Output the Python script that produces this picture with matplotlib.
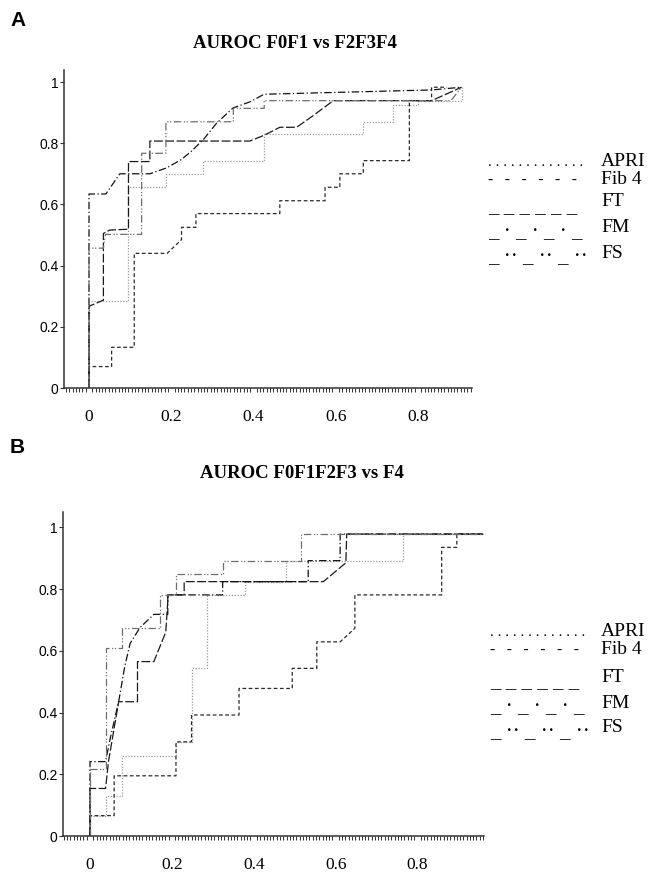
import numpy as np
import matplotlib
matplotlib.use("Agg")
import matplotlib.pyplot as plt
from matplotlib.ticker import MultipleLocator, FixedLocator

W, H = 651, 875

# legend / series names
names = ["APRI", "Fib 4", "FT", "FM", "FS"]
legend_marks = [". . . . . . . . . . . . .", "-   -   -   -   -   -", "_ _ _ _ _ _",
                "_ \u00b7 _ \u00b7 _ \u00b7 _", "_ \u00b7\u00b7 _ \u00b7\u00b7 _ \u00b7\u00b7"]

# panel A : F0F1 vs F2F3F4
a_apri_x = [0, 0, 0.096, 0.096, 0.187, 0.187, 0.278, 0.278, 0.426, 0.426, 0.667, 0.667, 0.74, 0.74, 0.80, 0.80, 0.906, 0.906]
a_apri_y = [0, 0.285, 0.285, 0.656, 0.656, 0.70, 0.70, 0.743, 0.743, 0.829, 0.829, 0.87, 0.87, 0.925, 0.925, 0.939, 0.939, 0.983]
a_fib4_x = [0, 0, 0.055, 0.055, 0.11, 0.11, 0.19, 0.225, 0.225, 0.26, 0.26, 0.464, 0.464, 0.574, 0.574, 0.61, 0.61, 0.667, 0.667, 0.779, 0.779, 0.833, 0.833, 0.87]
a_fib4_y = [0, 0.07, 0.07, 0.133, 0.133, 0.44, 0.44, 0.485, 0.525, 0.525, 0.57, 0.57, 0.612, 0.612, 0.656, 0.656, 0.70, 0.70, 0.743, 0.743, 0.939, 0.939, 0.983, 0.983]
a_ft_x = [0, 0, 0.035, 0.035, 0.05, 0.096, 0.096, 0.148, 0.148, 0.391, 0.426, 0.464, 0.505, 0.545, 0.594, 0.833, 0.906]
a_ft_y = [0, 0.267, 0.287, 0.505, 0.516, 0.519, 0.74, 0.74, 0.807, 0.807, 0.826, 0.852, 0.852, 0.89, 0.939, 0.939, 0.983]
a_fm_x = [0, 0, 0.041, 0.075, 0.148, 0.19, 0.225, 0.25, 0.28, 0.31, 0.35, 0.391, 0.426, 0.833, 0.906]
a_fm_y = [0, 0.634, 0.634, 0.70, 0.70, 0.72, 0.747, 0.775, 0.815, 0.865, 0.915, 0.935, 0.96, 0.974, 0.983]
a_fs_x = [0, 0, 0.035, 0.04, 0.128, 0.128, 0.187, 0.187, 0.351, 0.351, 0.426, 0.426, 0.88, 0.906]
a_fs_y = [0, 0.457, 0.457, 0.502, 0.502, 0.767, 0.767, 0.87, 0.87, 0.914, 0.914, 0.939, 0.939, 0.983]

# panel B : F0F1F2F3 vs F4
b_apri_x = [0, 0, 0.038, 0.038, 0.077, 0.077, 0.21, 0.21, 0.248, 0.248, 0.287, 0.287, 0.378, 0.378, 0.478, 0.478, 0.764, 0.764, 0.96]
b_apri_y = [0, 0.066, 0.066, 0.13, 0.13, 0.26, 0.26, 0.305, 0.305, 0.543, 0.543, 0.781, 0.781, 0.824, 0.824, 0.892, 0.892, 0.978, 0.978]
b_fib4_x = [0, 0, 0.059, 0.059, 0.21, 0.21, 0.248, 0.248, 0.364, 0.364, 0.494, 0.494, 0.554, 0.554, 0.611, 0.647, 0.647, 0.859, 0.859, 0.896, 0.896, 0.96]
b_fib4_y = [0, 0.066, 0.066, 0.195, 0.195, 0.305, 0.305, 0.392, 0.392, 0.478, 0.478, 0.543, 0.543, 0.629, 0.629, 0.673, 0.781, 0.781, 0.935, 0.935, 0.978, 0.978]
b_ft_x = [0, 0, 0.038, 0.045, 0.07, 0.116, 0.116, 0.156, 0.185, 0.191, 0.23, 0.23, 0.57, 0.625, 0.627, 0.96]
b_ft_y = [0, 0.154, 0.154, 0.24, 0.435, 0.435, 0.565, 0.565, 0.66, 0.781, 0.781, 0.824, 0.824, 0.885, 0.978, 0.978]
b_fm_x = [0, 0, 0.038, 0.05, 0.07, 0.085, 0.098, 0.122, 0.156, 0.19, 0.19, 0.324, 0.324, 0.533, 0.533, 0.611, 0.611, 0.96]
b_fm_y = [0, 0.241, 0.241, 0.32, 0.435, 0.55, 0.624, 0.675, 0.718, 0.718, 0.781, 0.781, 0.824, 0.824, 0.892, 0.892, 0.978, 0.978]
b_fs_x = [0, 0, 0.038, 0.038, 0.077, 0.077, 0.171, 0.171, 0.21, 0.21, 0.324, 0.324, 0.515, 0.515, 0.96]
b_fs_y = [0, 0.217, 0.217, 0.61, 0.61, 0.673, 0.673, 0.781, 0.781, 0.848, 0.848, 0.892, 0.892, 0.978, 0.978]

x_ticks = [0, 0.2, 0.4, 0.6, 0.8]
x_labels = ["0", "0.2", "0.4", "0.6", "0.8"]
y_ticks = [0, 0.2, 0.4, 0.6, 0.8, 1]
y_labels = ["0", "0.2", "0.4", "0.6", "0.8", "1"]

styles = [
    dict(color="#9a9a9a", ls=(0, (1, 1.3))),
    dict(color="#2a2a2a", ls=(0, (3, 2))),
    dict(color="#1a1a1a", ls=(0, (7, 2))),
    dict(color="#111111", ls=(0, (6, 2, 1, 2))),
    dict(color="#6e6e6e", ls=(0, (6, 2, 1, 1.3, 1, 2))),
]

SERIF = "Liberation Serif"
SANS = "Liberation Sans"

fig = plt.figure(figsize=(W / 100, H / 100), dpi=100)


def px_axes(left, right, top, bottom):
    return fig.add_axes([left / W, 1 - bottom / H, (right - left) / W, (bottom - top) / H])


def setup(ax, xlim, ylim):
    ax.set_xlim(xlim)
    ax.set_ylim(ylim)
    for s in ["top", "right"]:
        ax.spines[s].set_visible(False)
    for s in ["left", "bottom"]:
        ax.spines[s].set_color("#333333")
        ax.spines[s].set_linewidth(1.1)
    ax.xaxis.set_major_locator(FixedLocator(x_ticks))
    ax.set_xticklabels(x_labels, fontfamily=SERIF, fontsize=12.5)
    ax.xaxis.set_minor_locator(MultipleLocator(0.008))
    ax.tick_params(axis="x", which="major", length=0, pad=15)
    ax.tick_params(axis="x", which="minor", length=3, width=0.7, direction="out", color="#333333")
    ax.set_yticks(y_ticks)
    ax.set_yticklabels(y_labels, fontfamily=SANS, fontsize=10)
    ax.tick_params(axis="y", length=3, width=0.8, pad=1, color="#333333")


def draw(ax, series):
    for (xs, ys), st in zip(series, styles):
        ax.plot(xs, ys, lw=0.9, **st)


# mark font size and baseline offset (px below the row centre) per legend row
mark_size = [11, 11, 15, 15, 15]
mark_drop = [5, 4, 9, 9, 9]


def legend(x0, rows):
    for mk, nm, y, fs, dy in zip(legend_marks, names, rows, mark_size, mark_drop):
        fig.text(x0 / W, 1 - (y + dy) / H, mk, fontfamily=SERIF, fontsize=fs,
                 va="baseline", ha="left")
        fig.text(601 / W, 1 - y / H, nm, fontfamily=SERIF, fontsize=14,
                 va="center", ha="left")


# panel A
axA = px_axes(64, 472, 70, 388)
setup(axA, ((64 - 89) / 411.25, (472 - 89) / 411.25), (0, (388 - 70) / 306))
draw(axA, [(a_apri_x, a_apri_y), (a_fib4_x, a_fib4_y), (a_ft_x, a_ft_y),
           (a_fm_x, a_fm_y), (a_fs_x, a_fs_y)])
fig.text(10 / W, 1 - 20 / H, "A", fontfamily=SANS, fontweight="bold", fontsize=15, va="center")
fig.text(295 / W, 1 - 44 / H, "AUROC F0F1 vs F2F3F4", fontfamily=SERIF, fontweight="bold",
         fontsize=13.5, ha="center", va="center")
legend(488, [161, 179, 202, 228, 253])

# panel B
axB = px_axes(63, 484, 512, 836)
setup(axB, ((63 - 90) / 409.4, (484 - 90) / 409.4), (0, (836 - 512) / 308.7))
draw(axB, [(b_apri_x, b_apri_y), (b_fib4_x, b_fib4_y), (b_ft_x, b_ft_y),
           (b_fm_x, b_fm_y), (b_fs_x, b_fs_y)])
fig.text(10 / W, 1 - 447 / H, "B", fontfamily=SANS, fontweight="bold", fontsize=15, va="center")
fig.text(302 / W, 1 - 473 / H, "AUROC F0F1F2F3 vs F4", fontfamily=SERIF, fontweight="bold",
         fontsize=13.5, ha="center", va="center")
legend(490, [631, 649, 677, 703, 728])

fig.savefig("out.png", dpi=100)
